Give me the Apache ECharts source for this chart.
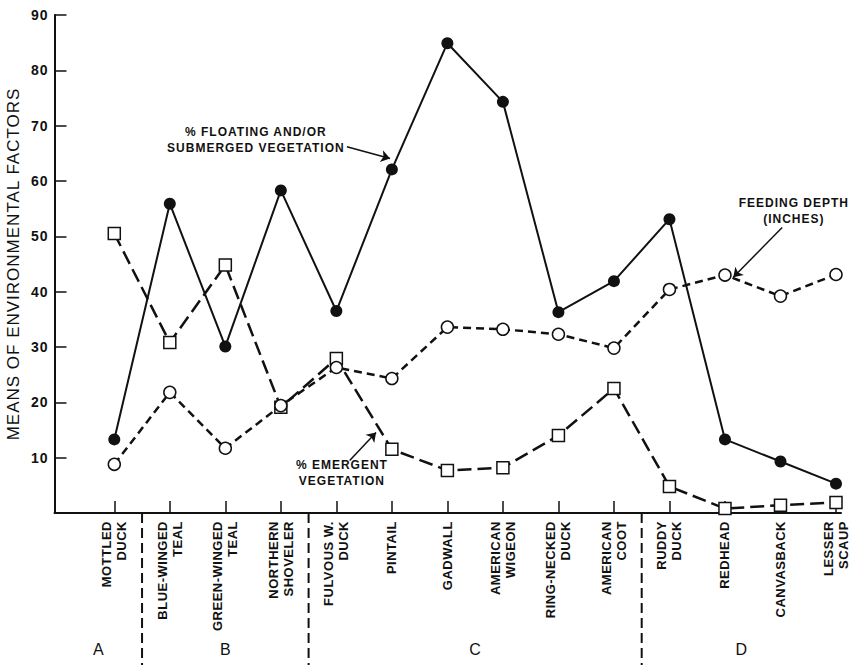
<!DOCTYPE html>
<html>
<head>
<meta charset="utf-8">
<script src="https://cdn.jsdelivr.net/npm/echarts@6/dist/echarts.min.js"></script>
<style>
  html, body { margin: 0; padding: 0; background: #fff; }
  #chart { width: 852px; height: 665px; }
  /* typewriter-like tracking for the lettering */
  #chart svg text { letter-spacing: 1px; }
  #chart svg text[style*="Verdana"] { letter-spacing: 0.5px; }
  #chart svg text[style*="Arial"] { letter-spacing: 0; }
</style>
</head>
<body>
<div id="chart"></div>
<script>
// Species along the x axis, with their habitat group
const species = [
  'MOTTLED\nDUCK', 'BLUE-WINGED\nTEAL', 'GREEN-WINGED\nTEAL', 'NORTHERN\nSHOVELER',
  'FULVOUS W.\nDUCK', 'PINTAIL', 'GADWALL', 'AMERICAN\nWIGEON', 'RING-NECKED\nDUCK',
  'AMERICAN\nCOOT', 'RUDDY\nDUCK', 'REDHEAD', 'CANVASBACK', 'LESSER\nSCAUP'
];
const speciesGroup = ['A', 'B', 'B', 'B', 'C', 'C', 'C', 'C', 'C', 'C', 'D', 'D', 'D', 'D'];

// Means of environmental factors per species
const floatingVeg  = [13.3, 55.9, 30.1, 58.3, 36.5, 62.1, 84.9, 74.3, 36.3, 41.9, 53.1, 13.3, 9.3, 5.3];
const emergentVeg  = [50.5, 30.8, 44.8, 19.1, 27.9, 11.5, 7.7, 8.2, 14.0, 22.5, 4.8, 0.8, 1.4, 1.9];
const feedingDepth = [8.8, 21.8, 11.7, 19.4, 26.3, 24.3, 33.6, 33.2, 32.3, 29.8, 40.4, 43.0, 39.2, 43.1];

const yTicks = [10, 20, 30, 40, 50, 60, 70, 80, 90];

const FONT = 'Liberation Sans';
const INK = '#111';
const X_MIN = -1.077, X_MAX = 13.09;

const idx = species.map((_, i) => i);
const toPoints = arr => arr.map((v, i) => [i, v]);

// group dividers sit halfway between neighbouring species of different groups
const groupNames = [];
const bounds = [];
speciesGroup.forEach((g, i) => {
  if (!groupNames.includes(g)) groupNames.push(g);
  if (i > 0 && g !== speciesGroup[i - 1]) bounds.push(i - 0.5);
});
const edges = [X_MIN, ...bounds, X_MAX];
const groupCenters = groupNames.map((_, k) => (edges[k] + edges[k + 1]) / 2);

const chart = echarts.init(document.getElementById('chart'), null, { renderer: 'svg' });

const annotationText = {
  color: INK, fontFamily: FONT, fontWeight: 'bold', fontSize: 12, lineHeight: 16, align: 'center'
};
const arrowStyle = {
  silent: true,
  symbol: ['none', 'arrow'],
  symbolSize: 9,
  lineStyle: { color: INK, width: 1.5, type: 'solid' },
  itemStyle: { color: INK },
  label: { show: false },
  emphasis: { disabled: true },
  animation: false
};
const textMark = (text, coord) => ({
  silent: true,
  symbol: 'circle',
  symbolSize: 1,
  itemStyle: { color: 'rgba(0,0,0,0)' },
  label: Object.assign({ show: true, position: 'inside', formatter: text }, annotationText),
  emphasis: { disabled: true },
  animation: false,
  data: [{ coord: coord }]
});

const option = {
  backgroundColor: '#fff',
  animation: false,
  grid: { left: 54.5, right: 11, top: 15, bottom: 152, containLabel: false, outerBoundsMode: 'none' },
  xAxis: [
    {
      type: 'value', min: X_MIN, max: X_MAX,
      axisLine: { show: true, onZero: false, lineStyle: { color: INK, width: 2 } },
      axisTick: { show: true, inside: true, length: 12, customValues: idx, lineStyle: { color: INK, width: 1.5 } },
      splitLine: { show: false },
      axisLabel: {
        customValues: idx, rotate: 90, margin: 8,
        color: INK, fontFamily: FONT + ', Verdana', fontWeight: 'bold', fontSize: 13, lineHeight: 15,
        formatter: v => species[Math.round(v)] || ''
      }
    },
    {
      type: 'value', min: X_MIN, max: X_MAX, position: 'bottom', offset: 120,
      axisLine: { show: false }, axisTick: { show: false }, splitLine: { show: false },
      axisLabel: {
        customValues: groupCenters, margin: 8,
        color: INK, fontFamily: FONT + ', Arial', fontSize: 16,
        formatter: v => {
          let best = 0;
          groupCenters.forEach((c, k) => { if (Math.abs(c - v) < Math.abs(groupCenters[best] - v)) best = k; });
          return groupNames[best];
        }
      }
    }
  ],
  yAxis: {
    type: 'value', min: 0, max: 90,
    name: 'MEANS OF ENVIRONMENTAL FACTORS',
    nameLocation: 'middle', nameRotate: 90, nameGap: 33, nameMoveOverlap: false,
    nameTextStyle: { color: INK, fontFamily: FONT, fontSize: 17 },
    axisLine: { show: true, onZero: false, lineStyle: { color: INK, width: 2 } },
    axisTick: { show: true, inside: true, length: 12, customValues: yTicks, lineStyle: { color: INK, width: 1.5 } },
    splitLine: { show: false },
    axisLabel: {
      customValues: yTicks, margin: 6,
      color: INK, fontFamily: FONT, fontWeight: 'bold', fontSize: 14
    }
  },
  series: [
    {
      name: '% FLOATING AND/OR SUBMERGED VEGETATION',
      type: 'line', clip: false, z: 3,
      data: toPoints(floatingVeg),
      symbol: 'circle', symbolSize: 12,
      lineStyle: { color: INK, width: 2, type: 'solid' },
      itemStyle: { color: INK, borderWidth: 0 },
      markPoint: textMark('% FLOATING AND/OR\nSUBMERGED VEGETATION', [2.55, 67.4]),
      markLine: Object.assign({ data: [[{ coord: [4.19, 66.2] }, { coord: [4.967, 64.07] }]] }, arrowStyle)
    },
    {
      name: '% EMERGENT VEGETATION',
      type: 'line', clip: false, z: 4,
      data: toPoints(emergentVeg),
      symbol: 'rect', symbolSize: 12,
      lineStyle: { color: INK, width: 2.5, type: [14, 6] },
      itemStyle: { color: '#fff', borderColor: INK, borderWidth: 1.5 },
      markPoint: textMark('% EMERGENT\nVEGETATION', [4.10, 7.15]),
      markLine: Object.assign({ data: [[{ coord: [4.24, 9.5] }, { coord: [4.715, 14.56] }]] }, arrowStyle)
    },
    {
      name: 'FEEDING DEPTH (INCHES)',
      type: 'line', clip: false, z: 5,
      data: toPoints(feedingDepth),
      symbol: 'circle', symbolSize: 12,
      lineStyle: { color: INK, width: 2.5, type: [8, 5] },
      itemStyle: { color: '#fff', borderColor: INK, borderWidth: 1.5 },
      markPoint: textMark('FEEDING DEPTH\n(INCHES)', [12.24, 54.5]),
      markLine: Object.assign({ data: [[{ coord: [12.03, 51.6] }, { coord: [11.15, 42.6] }]] }, arrowStyle)
    }
  ]
};

chart.setOption(option);

// dashed dividers between the habitat groups, from the axis down to the page edge
const yBase = chart.convertToPixel({ yAxisIndex: 0 }, 0);
const pageBottom = chart.getHeight();
chart.setOption({
  graphic: bounds.map(b => {
    const x = chart.convertToPixel({ xAxisIndex: 0 }, b);
    return {
      type: 'line', silent: true,
      shape: { x1: x, y1: yBase, x2: x, y2: pageBottom },
      style: { stroke: INK, lineWidth: 2, lineDash: [10, 5] }
    };
  })
});
</script>
</body>
</html>
